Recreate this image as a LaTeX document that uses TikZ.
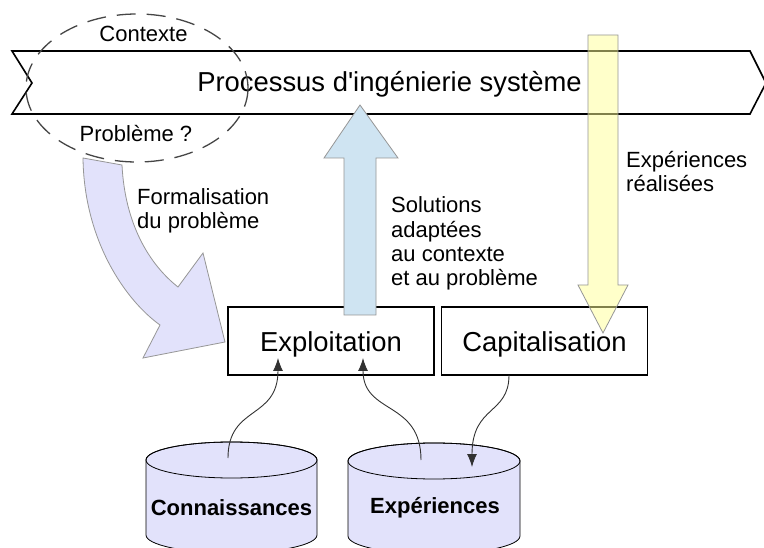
\documentclass[tikz,border=0pt]{standalone}
\usepackage{fontspec}
\setmainfont{Liberation Sans}
\usetikzlibrary{arrows.meta}
\definecolor{lavender}{RGB}{226,226,251}
\definecolor{skyfill}{RGB}{207,228,242}
\definecolor{lemon}{RGB}{255,255,150}
\definecolor{edgegray}{RGB}{150,150,150}
\definecolor{linkgray}{RGB}{50,50,50}
\definecolor{dashgray}{RGB}{70,70,70}

\begin{document}
\begin{tikzpicture}[x=1pt,y=-1pt,
  bigtext/.style={font=\fontsize{27.4}{30}\selectfont, inner sep=0pt},
  note/.style={font=\fontsize{22}{24.4}\selectfont, inner sep=0pt, align=left},
  dbtext/.style={font=\fontsize{22}{24}\selectfont\bfseries, inner sep=0pt},
  stagebox/.style={draw=black, line width=1.4pt, minimum width=206pt, minimum height=68pt,
    inner sep=0pt, text height=24pt, text depth=2pt, bigtext},
  bigarrow/.style={draw=edgegray, line width=0.8pt, line join=miter},
  dbshape/.style={draw=black, line width=0.8pt, fill=lavender},
  link/.style={draw=linkgray, line width=0.9pt, -{Latex[length=13pt,width=10pt]}}
]
\useasboundingbox (0,0) rectangle (764,548);
\clip (0,0) rectangle (764,548);
\fill[white] (0,0) rectangle (764,548);

% process banner
\filldraw[fill=white, draw=black, line width=1.6pt, line join=miter]
  (12,51) -- (750,51) -- (766,83) -- (750,114) -- (12,114) -- (32,83) -- cycle;
\node[bigtext, anchor=base] (proc) at (389.5,92) {Processus d\textquotesingle ingénierie système};

% context / problem zone
\draw[dashgray, line width=1.3pt, dash pattern=on 19pt off 11pt] (137,88) ellipse [x radius=111, y radius=74];
\node[note, anchor=base] (ctx) at (143.5,42) {Contexte};
\node[note, anchor=base] (pb) at (136,142) {Problème ?};

% activity boxes
\node[stagebox] (expl) at (331,341) {Exploitation};
\node[stagebox] (capi) at (544.5,341) {Capitalisation};

% solutions going up to the process
\filldraw[bigarrow, fill=skyfill]
  (344,315) -- (344,158) -- (324,158) -- (360,105) -- (398,158) -- (376,158) -- (376,315) -- cycle;

% problem formalisation
\filldraw[bigarrow, fill=lavender]
  (83,158) -- (122,165) .. controls (125,225) and (150,265) .. (178,287)
  -- (203,253) -- (225,342) -- (143,358) -- (160,325)
  .. controls (125,300) and (84,240) .. (83,158) -- cycle;

% repositories
\filldraw[dbshape] (146,460) -- (146,535) arc[start angle=180, end angle=0, x radius=85.5, y radius=18]
  -- (317,460) arc[start angle=0, end angle=-180, x radius=85.5, y radius=18] -- cycle;
\draw[line width=0.8pt] (231.5,460) ellipse [x radius=85.5, y radius=18];
\node[dbtext, anchor=base] (know) at (231.5,515) {Connaissances};

\filldraw[dbshape] (348,461) -- (348,536) arc[start angle=180, end angle=0, x radius=86, y radius=18]
  -- (520,461) arc[start angle=0, end angle=-180, x radius=86, y radius=18] -- cycle;
\draw[line width=0.8pt] (434,461) ellipse [x radius=86, y radius=18];
\node[dbtext, anchor=base] (exp) at (435,513) {Expériences};

% flows between repositories and activities
\coordinate (knowtop) at (228,458);
\coordinate (exptop) at (421,460);
\coordinate (explin1) at (278,358);
\coordinate (explin2) at (363,358);
\coordinate (capiout) at (509,375);
\coordinate (expin) at (472,467);
\draw[link] (knowtop) .. controls (228,405) and (278,420) .. (explin1);
\draw[link] (exptop) .. controls (421,400) and (363,415) .. (explin2);
\draw[link] (capiout) .. controls (509,415) and (472,405) .. (expin);

% experience feedback
\filldraw[bigarrow, fill=lemon, fill opacity=0.5]
  (588,35) -- (618,35) -- (618,285) -- (628,285) -- (603,333) -- (578,285) -- (588,285) -- cycle;

% flow captions (base = baseline of the last line)
\node[note, anchor=base west] (formal) at (137,229) {Formalisation\\du problème};
\node[note, anchor=base west] (sol) at (391,286) {Solutions\\adaptées\\au contexte\\et au problème};
\node[note, anchor=base west] (real) at (626,192) {Expériences\\réalisées};
\end{tikzpicture}
\end{document}
